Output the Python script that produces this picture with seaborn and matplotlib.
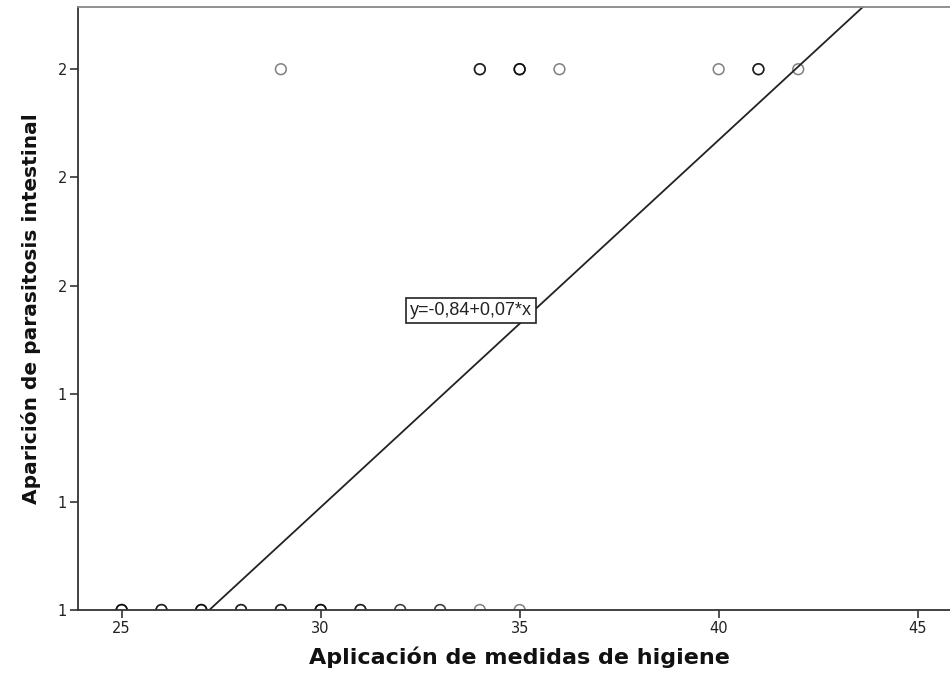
import numpy as np
import pandas as pd
import matplotlib
matplotlib.use('Agg')
import matplotlib.pyplot as plt
import seaborn as sns
from matplotlib.patches import Rectangle

# --- data ---
# hygiene score for cases without parasitosis (y = 1) and how many points overlap there
x_no = [25, 26, 27, 28, 29, 30, 31, 32, 33, 34, 35]
n_no = [4, 3, 4, 3, 3, 4, 3, 2, 2, 1, 1]
# hygiene score for cases with parasitosis (y = 2)
x_yes = [29, 34, 35, 36, 40, 41, 42]
n_yes = [1, 3, 4, 1, 1, 3, 1]

# linear fit shown on the chart
fit_intercept = -0.847
fit_slope = 0.0679
fit_label = 'y=-0,84+0,07*x'

y_ticks = [1.0, 1.2, 1.4, 1.6, 1.8, 2.0]
y_ticklabels = ['1', '1', '1', '2', '2', '2']
x_ticks = [25, 30, 35, 40, 45]

df = pd.DataFrame({
    'higiene': np.concatenate([np.repeat(x_no, n_no), np.repeat(x_yes, n_yes)]),
    'parasitosis': np.concatenate([np.ones(sum(n_no)), np.full(sum(n_yes), 2.0)]),
})

sns.set_style('white')
plt.rcParams['font.family'] = ['DejaVu Sans']

fig = plt.figure(figsize=(9.5, 6.75), dpi=100)
ax = fig.add_axes([0.082, 0.0963, 0.93, 0.8933])
ax.set_axisbelow(False)

xlim = (23.9, 46.1)
ylim = (1.0, 2.115)

sns.scatterplot(data=df, x='higiene', y='parasitosis', ax=ax, s=60,
                facecolor='none', edgecolor='black', linewidth=1.1, alpha=0.5,
                marker='o', zorder=1)

# hide the half of the circles that falls below the x axis (as in the original)
ax.add_patch(Rectangle((0, -0.02), 1, 0.02, transform=ax.transAxes,
                       facecolor='white', edgecolor='none', clip_on=False, zorder=1.2))

line_x = np.array(xlim)
line_df = pd.DataFrame({'x': line_x, 'y': fit_intercept + fit_slope * line_x})
sns.lineplot(data=line_df, x='x', y='y', ax=ax, color='#222222', linewidth=1.3)

ax.text(32.25, 1.553, fit_label, ha='left', va='center', fontsize=13,
        family=['Liberation Sans', 'DejaVu Sans'], color='#222222',
        bbox=dict(boxstyle='square,pad=0.22', facecolor='white',
                  edgecolor='#222222', linewidth=1.2))

ax.set_xlim(*xlim)
ax.set_ylim(*ylim)
ax.set_xticks(x_ticks)
ax.set_yticks(y_ticks)
ax.set_yticklabels(y_ticklabels)
ax.tick_params(axis='both', direction='out', length=6, width=1.2, color='#333333',
               labelsize=10.5, labelcolor='#222222', pad=2,
               bottom=True, left=True)

ax.set_xlabel('Aplicación de medidas de higiene', fontsize=16, fontweight='bold',
              color='#111111')
ax.xaxis.set_label_coords(0.5, -0.061)
ax.set_ylabel('Aparición de parasitosis intestinal', fontsize=14.5, fontweight='bold',
              labelpad=12, color='#111111')

for side in ['left', 'bottom']:
    ax.spines[side].set_color('#333333')
    ax.spines[side].set_linewidth(1.3)
ax.spines['top'].set_color('#888888')
ax.spines['top'].set_linewidth(1.3)
ax.spines['right'].set_visible(False)

fig.savefig('out.png', dpi=100)
